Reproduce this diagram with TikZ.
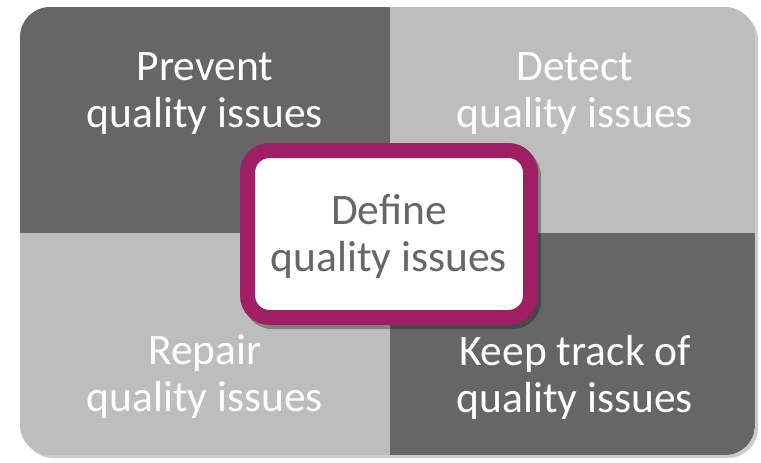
\documentclass[tikz,border=0pt]{standalone}
\usepackage{fontspec}
\setmainfont{Carlito}
\usetikzlibrary{shadows,shadows.blur}
\definecolor{darkq}{HTML}{666666}
\definecolor{lightq}{HTML}{BDBDBD}
\definecolor{plum}{HTML}{9E1F63}
\definecolor{txtgray}{HTML}{666666}
\tikzset{
  qlabel/.style={text=white, align=center, font=\fontsize{43.5}{47}\selectfont, inner sep=0pt},
  clabel/.style={text=txtgray, align=center, font=\fontsize{43.5}{47}\selectfont, inner sep=0pt},
}
\begin{document}
\begin{tikzpicture}[x=1pt,y=-1pt]
\useasboundingbox (0,0) rectangle (761,463);
% outer shadow
\fill[black, opacity=0.2, rounded corners=30pt] (23,10) rectangle (758,458);
\begin{scope}
\clip[rounded corners=30pt] (20,7) rectangle (755,455);
\fill[darkq] (20,7) rectangle (390,233);
\fill[lightq] (390,7) rectangle (755,233);
\fill[lightq] (20,233) rectangle (390,455);
\fill[darkq] (390,233) rectangle (755,455);
\end{scope}
\node[qlabel] (prevent) at (205,94) {Prevent\\quality issues};
\node[qlabel] (detect) at (575,94) {Detect\\quality issues};
\node[qlabel] (repair) at (205,377) {Repair\\quality issues};
\node[qlabel] (track) at (575,377) {Keep track of\\quality issues};
% center box
\fill[black, opacity=0.3, rounded corners=28pt] (244,148) rectangle (541,329);
\draw[plum, line width=15pt, fill=white, rounded corners=22pt] (247.5,150.5) rectangle (530.5,317.5);
\node[clabel] (define) at (389,236) {Define\\quality issues};
\end{tikzpicture}
\end{document}
